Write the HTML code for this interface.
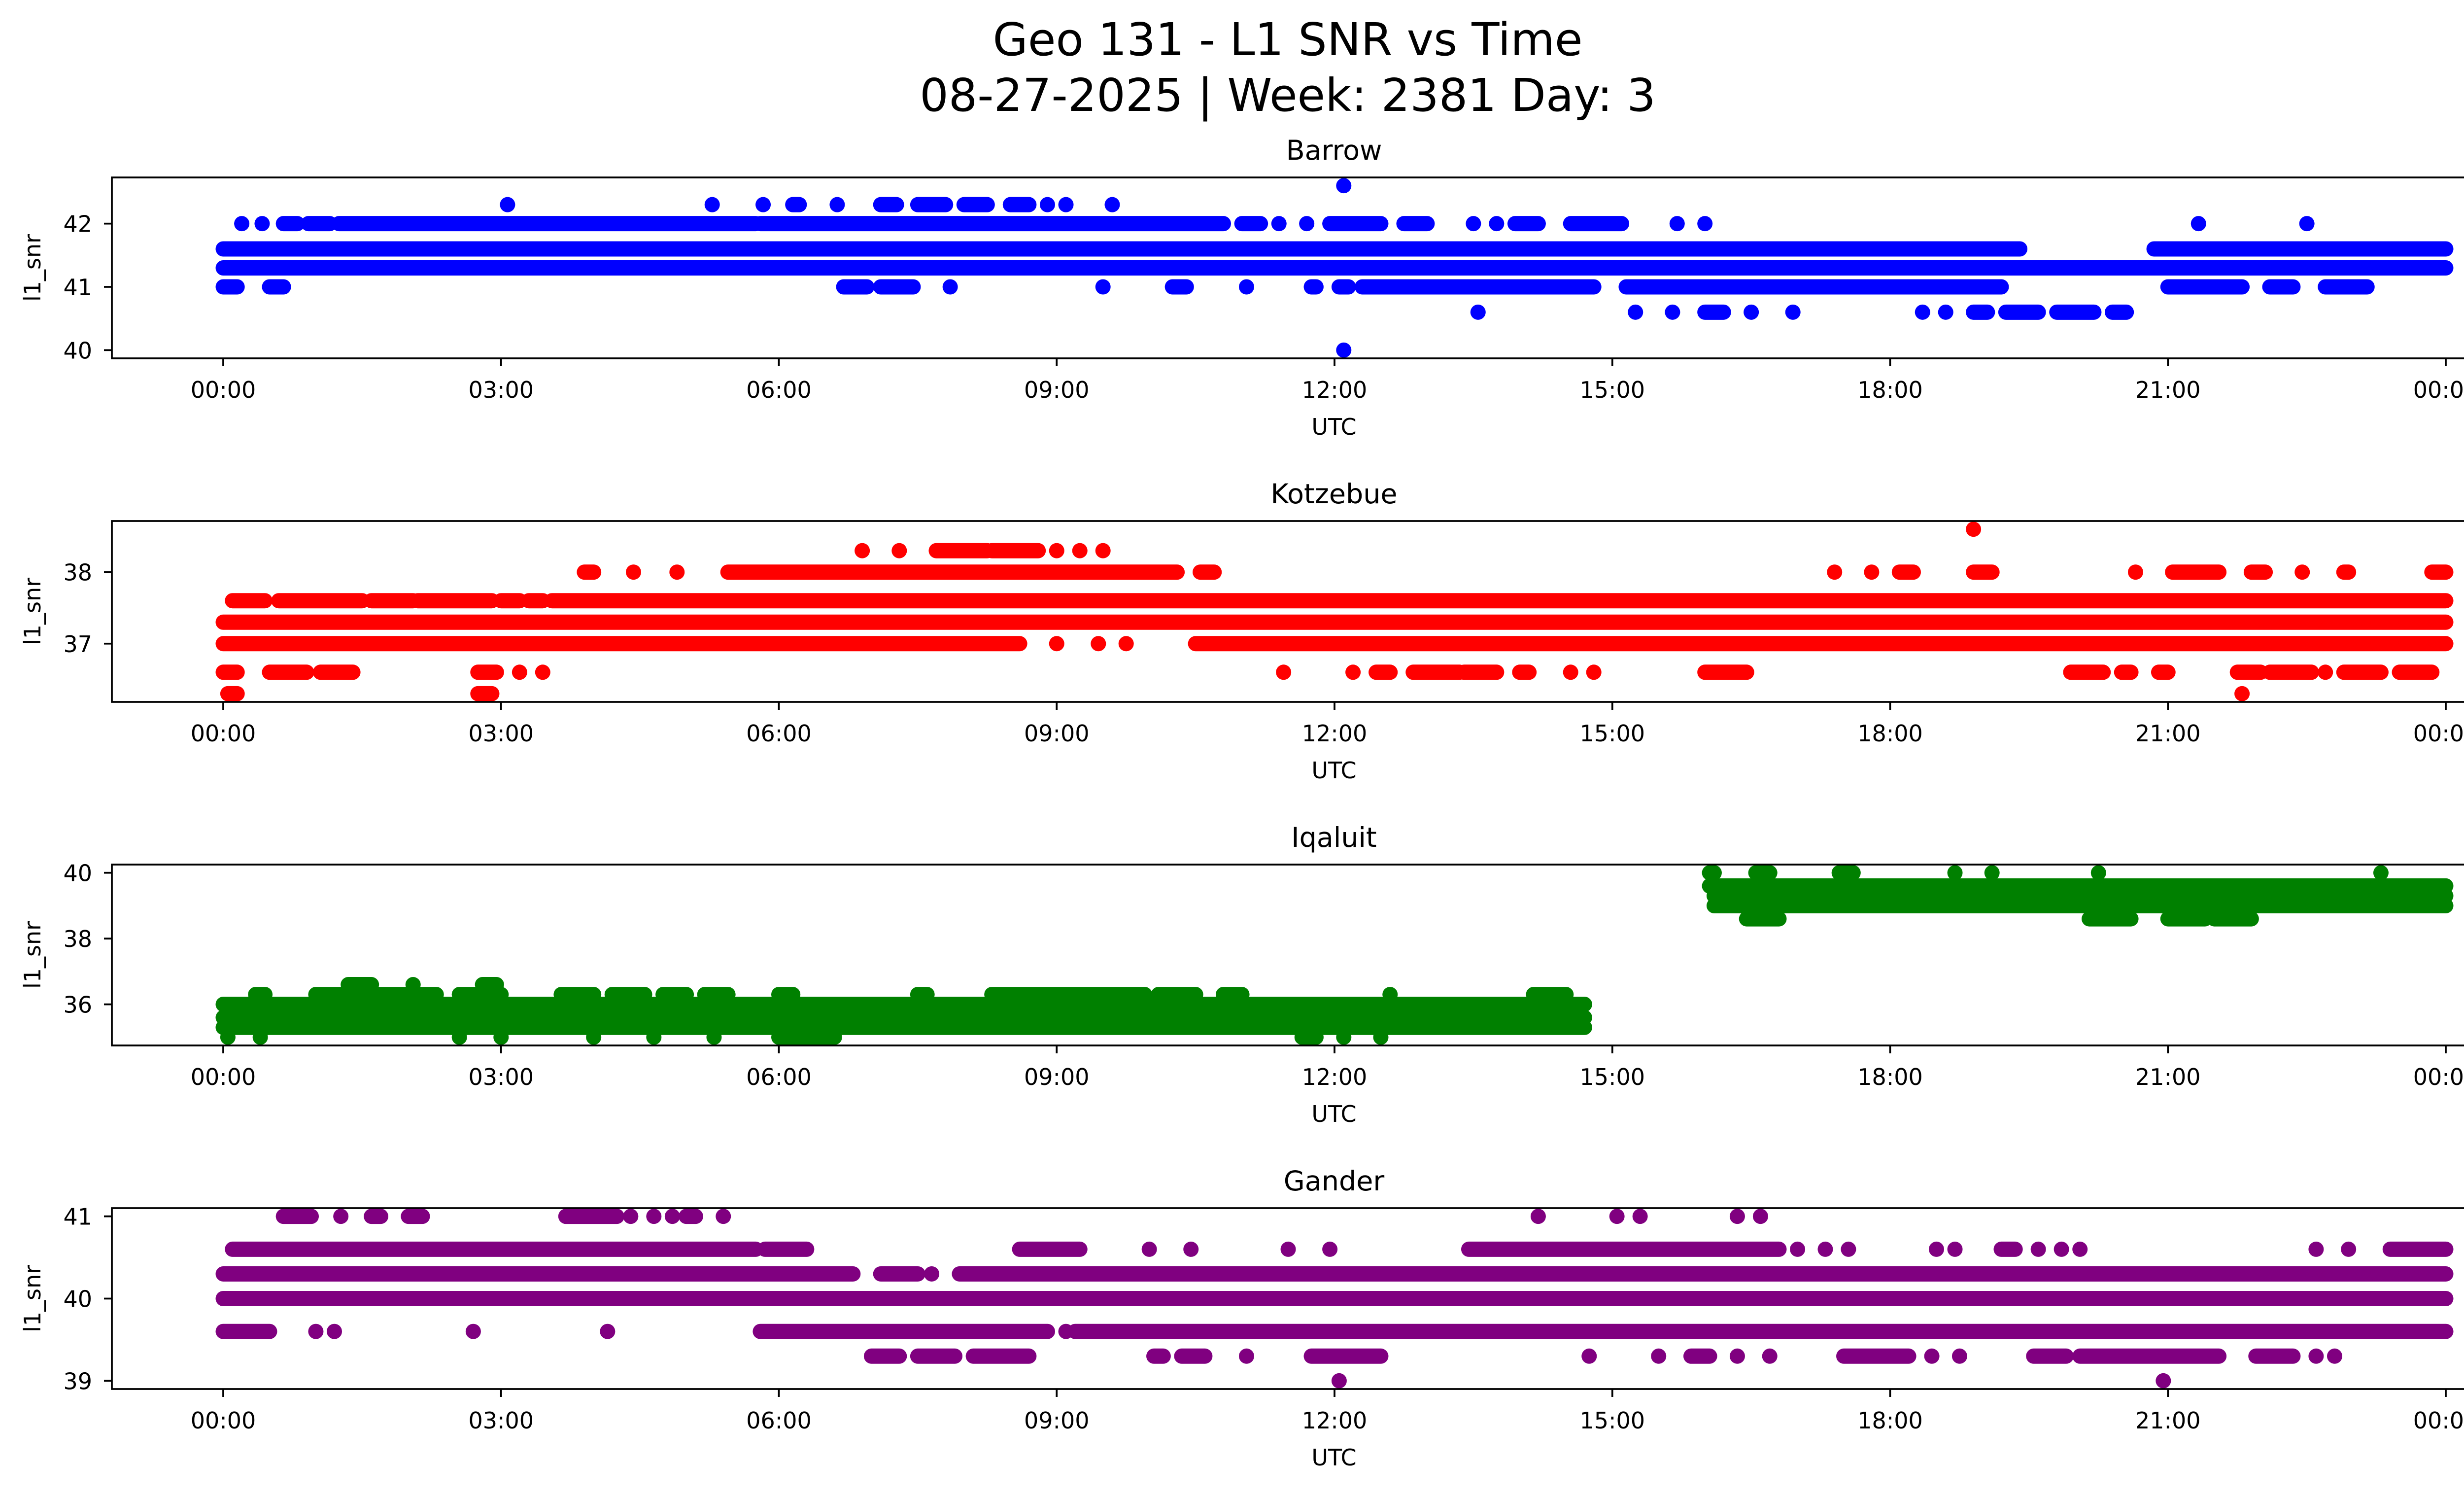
<!DOCTYPE html>
<html><head><meta charset="utf-8"><title>Geo 131 - L1 SNR vs Time</title>
<style>html,body{margin:0;padding:0;background:#fff;overflow:hidden}svg{display:block}text{font-family:"DejaVu Sans","Liberation Sans",sans-serif;fill:#000}</style>
</head><body>
<svg id="chart" xmlns="http://www.w3.org/2000/svg" width="5226" height="3033" viewBox="0 0 5226 3033">
<rect width="5226" height="3033" fill="#fff"/>
<text x="2613" y="112" font-size="92" text-anchor="middle">Geo 131 - L1 SNR vs Time</text>
<text x="2613" y="225" font-size="92" text-anchor="middle">08-27-2025 | Week: 2381 Day: 3</text>
<g id="panels"></g>
</svg>
<script>
// x-axis ticks (hours) and labels
const xTickHours = [0,3,6,9,12,15,18,21,24];
const xTickLabels = ["00:00","03:00","06:00","09:00","12:00","15:00","18:00","21:00","00:00"];
const stationNames = ["Barrow","Kotzebue","Iqaluit","Gander"];
const stationColors = ["#0000ff","#ff0000","#008000","#800080"];
const yTicksBarrow = [40,41,42];
const yTicksKotzebue = [37,38];
const yTicksIqaluit = [36,38,40];
const yTicksGander = [39,40,41];
const yRangeBarrow = [39.87,42.73];
const yRangeKotzebue = [36.185,38.715];
const yRangeIqaluit = [34.75,40.25];
const yRangeGander = [38.9,41.1];
// series: [snr level, start hour, end hour] runs of consecutive samples
const barrowRuns = [
[42.6,12.1,12.1],[40,12.1,12.1],
[42.3,3.07,3.07],[42.3,5.28,5.28],[42.3,5.83,5.83],[42.3,6.15,6.22],[42.3,6.63,6.63],[42.3,7.1,7.27],[42.3,7.5,7.8],[42.3,8.0,8.25],[42.3,8.5,8.7],[42.3,8.9,8.9],[42.3,9.1,9.1],[42.3,9.6,9.6],
[42,0.2,0.2],[42,0.42,0.42],[42,0.65,0.8],[42,0.92,1.15],[42,1.25,5.75],[42,5.8,10.8],[42,11.0,11.2],[42,11.4,11.4],[42,11.7,11.7],[42,11.95,12.5],[42,12.75,13.0],[42,13.5,13.5],[42,13.75,13.75],[42,13.95,14.2],[42,14.55,15.1],[42,15.7,15.7],[42,16.0,16.0],[42,21.33,21.33],[42,22.5,22.5],
[41.6,0,19.4],[41.6,20.85,24],
[41.3,0,24],
[41,0,0.15],[41,0.5,0.65],[41,6.7,6.95],[41,7.1,7.45],[41,7.85,7.85],[41,9.5,9.5],[41,10.25,10.4],[41,11.05,11.05],[41,11.75,11.8],[41,12.05,12.15],[41,12.3,14.8],[41,15.15,19.2],[41,21.0,21.8],[41,22.1,22.35],[41,22.7,23.15],
[40.6,13.55,13.55],[40.6,15.25,15.25],[40.6,15.65,15.65],[40.6,16.0,16.2],[40.6,16.5,16.5],[40.6,16.95,16.95],[40.6,18.35,18.35],[40.6,18.6,18.6],[40.6,18.9,19.05],[40.6,19.25,19.6],[40.6,19.8,20.2],[40.6,20.4,20.55]
];
const kotzebueRuns = [
[38.6,18.9,18.9],
[38.3,6.9,6.9],[38.3,7.3,7.3],[38.3,7.7,8.25],[38.3,8.3,8.8],[38.3,9.0,9.0],[38.3,9.25,9.25],[38.3,9.5,9.5],
[38,3.9,4.0],[38,4.43,4.43],[38,4.9,4.9],[38,5.45,10.3],[38,10.55,10.7],[38,17.4,17.4],[38,17.8,17.8],[38,18.1,18.25],[38,18.9,19.1],[38,20.65,20.65],[38,21.05,21.55],[38,21.9,22.05],[38,22.45,22.45],[38,22.9,22.95],[38,23.85,24],
[37.6,0.1,0.45],[37.6,0.6,1.5],[37.6,1.6,2.05],[37.6,2.1,2.9],[37.6,3.0,3.2],[37.6,3.3,3.45],[37.6,3.55,24],
[37.3,0,24],
[37,0,8.6],[37,9.0,9.0],[37,9.45,9.45],[37,9.75,9.75],[37,10.5,24],
[36.6,0,0.15],[36.6,0.5,0.9],[36.6,1.05,1.4],[36.6,2.75,2.95],[36.6,3.2,3.2],[36.6,3.45,3.45],[36.6,11.45,11.45],[36.6,12.2,12.2],[36.6,12.45,12.6],[36.6,12.85,13.35],[36.6,13.4,13.75],[36.6,14.0,14.1],[36.6,14.55,14.55],[36.6,14.8,14.8],[36.6,16.0,16.45],[36.6,19.95,20.3],[36.6,20.5,20.6],[36.6,20.9,21.0],[36.6,21.75,22.0],[36.6,22.1,22.55],[36.6,22.7,22.7],[36.6,22.9,23.3],[36.6,23.5,23.85],
[36.3,0.05,0.15],[36.3,2.75,2.9],[36.3,21.8,21.8]
];
const iqaluitRuns = [
[36.6,1.35,1.6],[36.6,2.05,2.05],[36.6,2.8,2.95],
[36.3,0.35,0.45],[36.3,1.0,2.3],[36.3,2.55,3.0],[36.3,3.65,4.0],[36.3,4.2,4.55],[36.3,4.75,5.0],[36.3,5.2,5.45],[36.3,6.0,6.15],[36.3,7.5,7.6],[36.3,8.3,9.95],[36.3,10.1,10.5],[36.3,10.8,11.0],[36.3,12.6,12.6],[36.3,14.15,14.5],
[36,0,14.7],[35.6,0,14.7],[35.3,0,14.7],
[35,0.05,0.05],[35,0.4,0.4],[35,2.55,2.55],[35,3.0,3.0],[35,4.0,4.0],[35,4.65,4.65],[35,5.3,5.3],[35,6.0,6.6],[35,11.65,11.8],[35,12.1,12.1],[35,12.5,12.5],
[40,16.05,16.1],[40,16.55,16.7],[40,17.45,17.6],[40,18.7,18.7],[40,19.1,19.1],[40,20.25,20.25],[40,23.3,23.3],
[39.6,16.05,24],[39.3,16.1,24],[39,16.1,24],
[38.6,16.45,16.8],[38.6,20.15,20.6],[38.6,21.0,21.4],[38.6,21.5,21.9]
];
const ganderRuns = [
[41,0.65,0.95],[41,1.27,1.27],[41,1.6,1.7],[41,2.0,2.15],[41,3.7,4.25],[41,4.4,4.4],[41,4.65,4.65],[41,4.85,4.85],[41,5.0,5.1],[41,5.4,5.4],[41,14.2,14.2],[41,15.05,15.05],[41,15.3,15.3],[41,16.35,16.35],[41,16.6,16.6],
[40.6,0.1,5.75],[40.6,5.85,6.3],[40.6,8.6,9.25],[40.6,10.0,10.0],[40.6,10.45,10.45],[40.6,11.5,11.5],[40.6,11.95,11.95],[40.6,13.45,16.8],[40.6,17.0,17.0],[40.6,17.3,17.3],[40.6,17.55,17.55],[40.6,18.5,18.5],[40.6,18.7,18.7],[40.6,19.2,19.35],[40.6,19.6,19.6],[40.6,19.85,19.85],[40.6,20.05,20.05],[40.6,22.6,22.6],[40.6,22.95,22.95],[40.6,23.4,24],
[40.3,0,6.8],[40.3,7.1,7.5],[40.3,7.65,7.65],[40.3,7.95,24],
[40,0,24],
[39.6,0,0.5],[39.6,1.0,1.0],[39.6,1.2,1.2],[39.6,2.7,2.7],[39.6,4.15,4.15],[39.6,5.8,8.9],[39.6,9.1,9.1],[39.6,9.2,24],
[39.3,7.0,7.3],[39.3,7.5,7.9],[39.3,8.1,8.7],[39.3,10.05,10.15],[39.3,10.35,10.6],[39.3,11.05,11.05],[39.3,11.75,12.5],[39.3,14.75,14.75],[39.3,15.5,15.5],[39.3,15.85,16.05],[39.3,16.35,16.35],[39.3,16.7,16.7],[39.3,17.5,18.2],[39.3,18.45,18.45],[39.3,18.75,18.75],[39.3,19.55,19.9],[39.3,20.05,21.55],[39.3,21.95,22.35],[39.3,22.6,22.6],[39.3,22.8,22.8],
[39,12.05,12.05],[39,20.95,20.95]
];

const NS = "http://www.w3.org/2000/svg";
const AX_L = 227, AX_R = 5187, AX_H = 367, TOP0 = 360, STEP = 697, R = 15.5;
const X0 = 453, PX_PER_H = (4963 - 453) / 24;
function xScale(h){ return X0 + h * PX_PER_H; }
function mk(tag, attrs, parent){ const e = document.createElementNS(NS, tag); for (const k in attrs) e.setAttribute(k, attrs[k]); parent.appendChild(e); return e; }

const panelRuns = [barrowRuns, kotzebueRuns, iqaluitRuns, ganderRuns];
const panelTicks = [yTicksBarrow, yTicksKotzebue, yTicksIqaluit, yTicksGander];
const panelRanges = [yRangeBarrow, yRangeKotzebue, yRangeIqaluit, yRangeGander];
const root = document.getElementById("panels");

for (let p = 0; p < 4; p++) {
  const top = TOP0 + p * STEP, bot = top + AX_H;
  const rng = panelRanges[p];
  const yScale = v => bot - (v - rng[0]) / (rng[1] - rng[0]) * AX_H;
  const slug = stationNames[p].toLowerCase();
  const g = mk("g", {}, root);
  
  

  const t = mk("text", {x:(AX_L+AX_R)/2, y: top - 36, "font-size": 55.5, "text-anchor": "middle"}, g);
  t.textContent = stationNames[p];
  
  

  const clip = mk("clipPath", {id: "clip" + p}, g);
  mk("rect", {x: AX_L, y: top, width: AX_R - AX_L, height: AX_H}, clip);
  const marks = mk("g", {"clip-path": "url(#clip" + p + ")", fill: stationColors[p], stroke: stationColors[p]}, g);
  
  
  for (const run of panelRuns[p]) {
    const y = yScale(run[0]), x1 = xScale(run[1]), x2 = xScale(run[2]);
    let m;
    if (x2 - x1 < 1) {
      m = mk("circle", {cx: x1, cy: y, r: R, stroke: "none"}, marks);
    } else {
      m = mk("line", {x1: x1, y1: y, x2: x2, y2: y, "stroke-width": 2 * R, "stroke-linecap": "round"}, marks);
    }
    
    
  }

  const frame = mk("rect", {x: AX_L, y: top, width: AX_R - AX_L, height: AX_H, fill: "none", stroke: "#000", "stroke-width": 3.7}, g);
  
  

  for (let i = 0; i < xTickHours.length; i++) {
    const x = xScale(xTickHours[i]);
    const tk = mk("line", {x1: x, y1: bot, x2: x, y2: bot + 16, stroke: "#000", "stroke-width": 3.7}, g);
    
    
    const lb = mk("text", {x: x, y: bot + 80, "font-size": 46, "text-anchor": "middle"}, g);
    lb.textContent = xTickLabels[i];
    
    
  }
  const xl = mk("text", {x: (AX_L+AX_R)/2, y: bot + 155, "font-size": 46, "text-anchor": "middle"}, g);
  xl.textContent = "UTC";
  
  

  for (const v of panelTicks[p]) {
    const y = yScale(v);
    const tk = mk("line", {x1: AX_L - 16, y1: y, x2: AX_L, y2: y, stroke: "#000", "stroke-width": 3.7}, g);
    
    
    const lb = mk("text", {x: AX_L - 40, y: y + 17, "font-size": 46, "text-anchor": "end"}, g);
    lb.textContent = String(v);
    
    
  }
  const cy = (top + bot) / 2;
  const yl = mk("text", {x: 0, y: 0, "font-size": 46, "text-anchor": "middle", transform: "translate(82," + cy + ") rotate(-90)"}, g);
  yl.textContent = "l1_snr";
  
  
}
</script>
</body></html>
